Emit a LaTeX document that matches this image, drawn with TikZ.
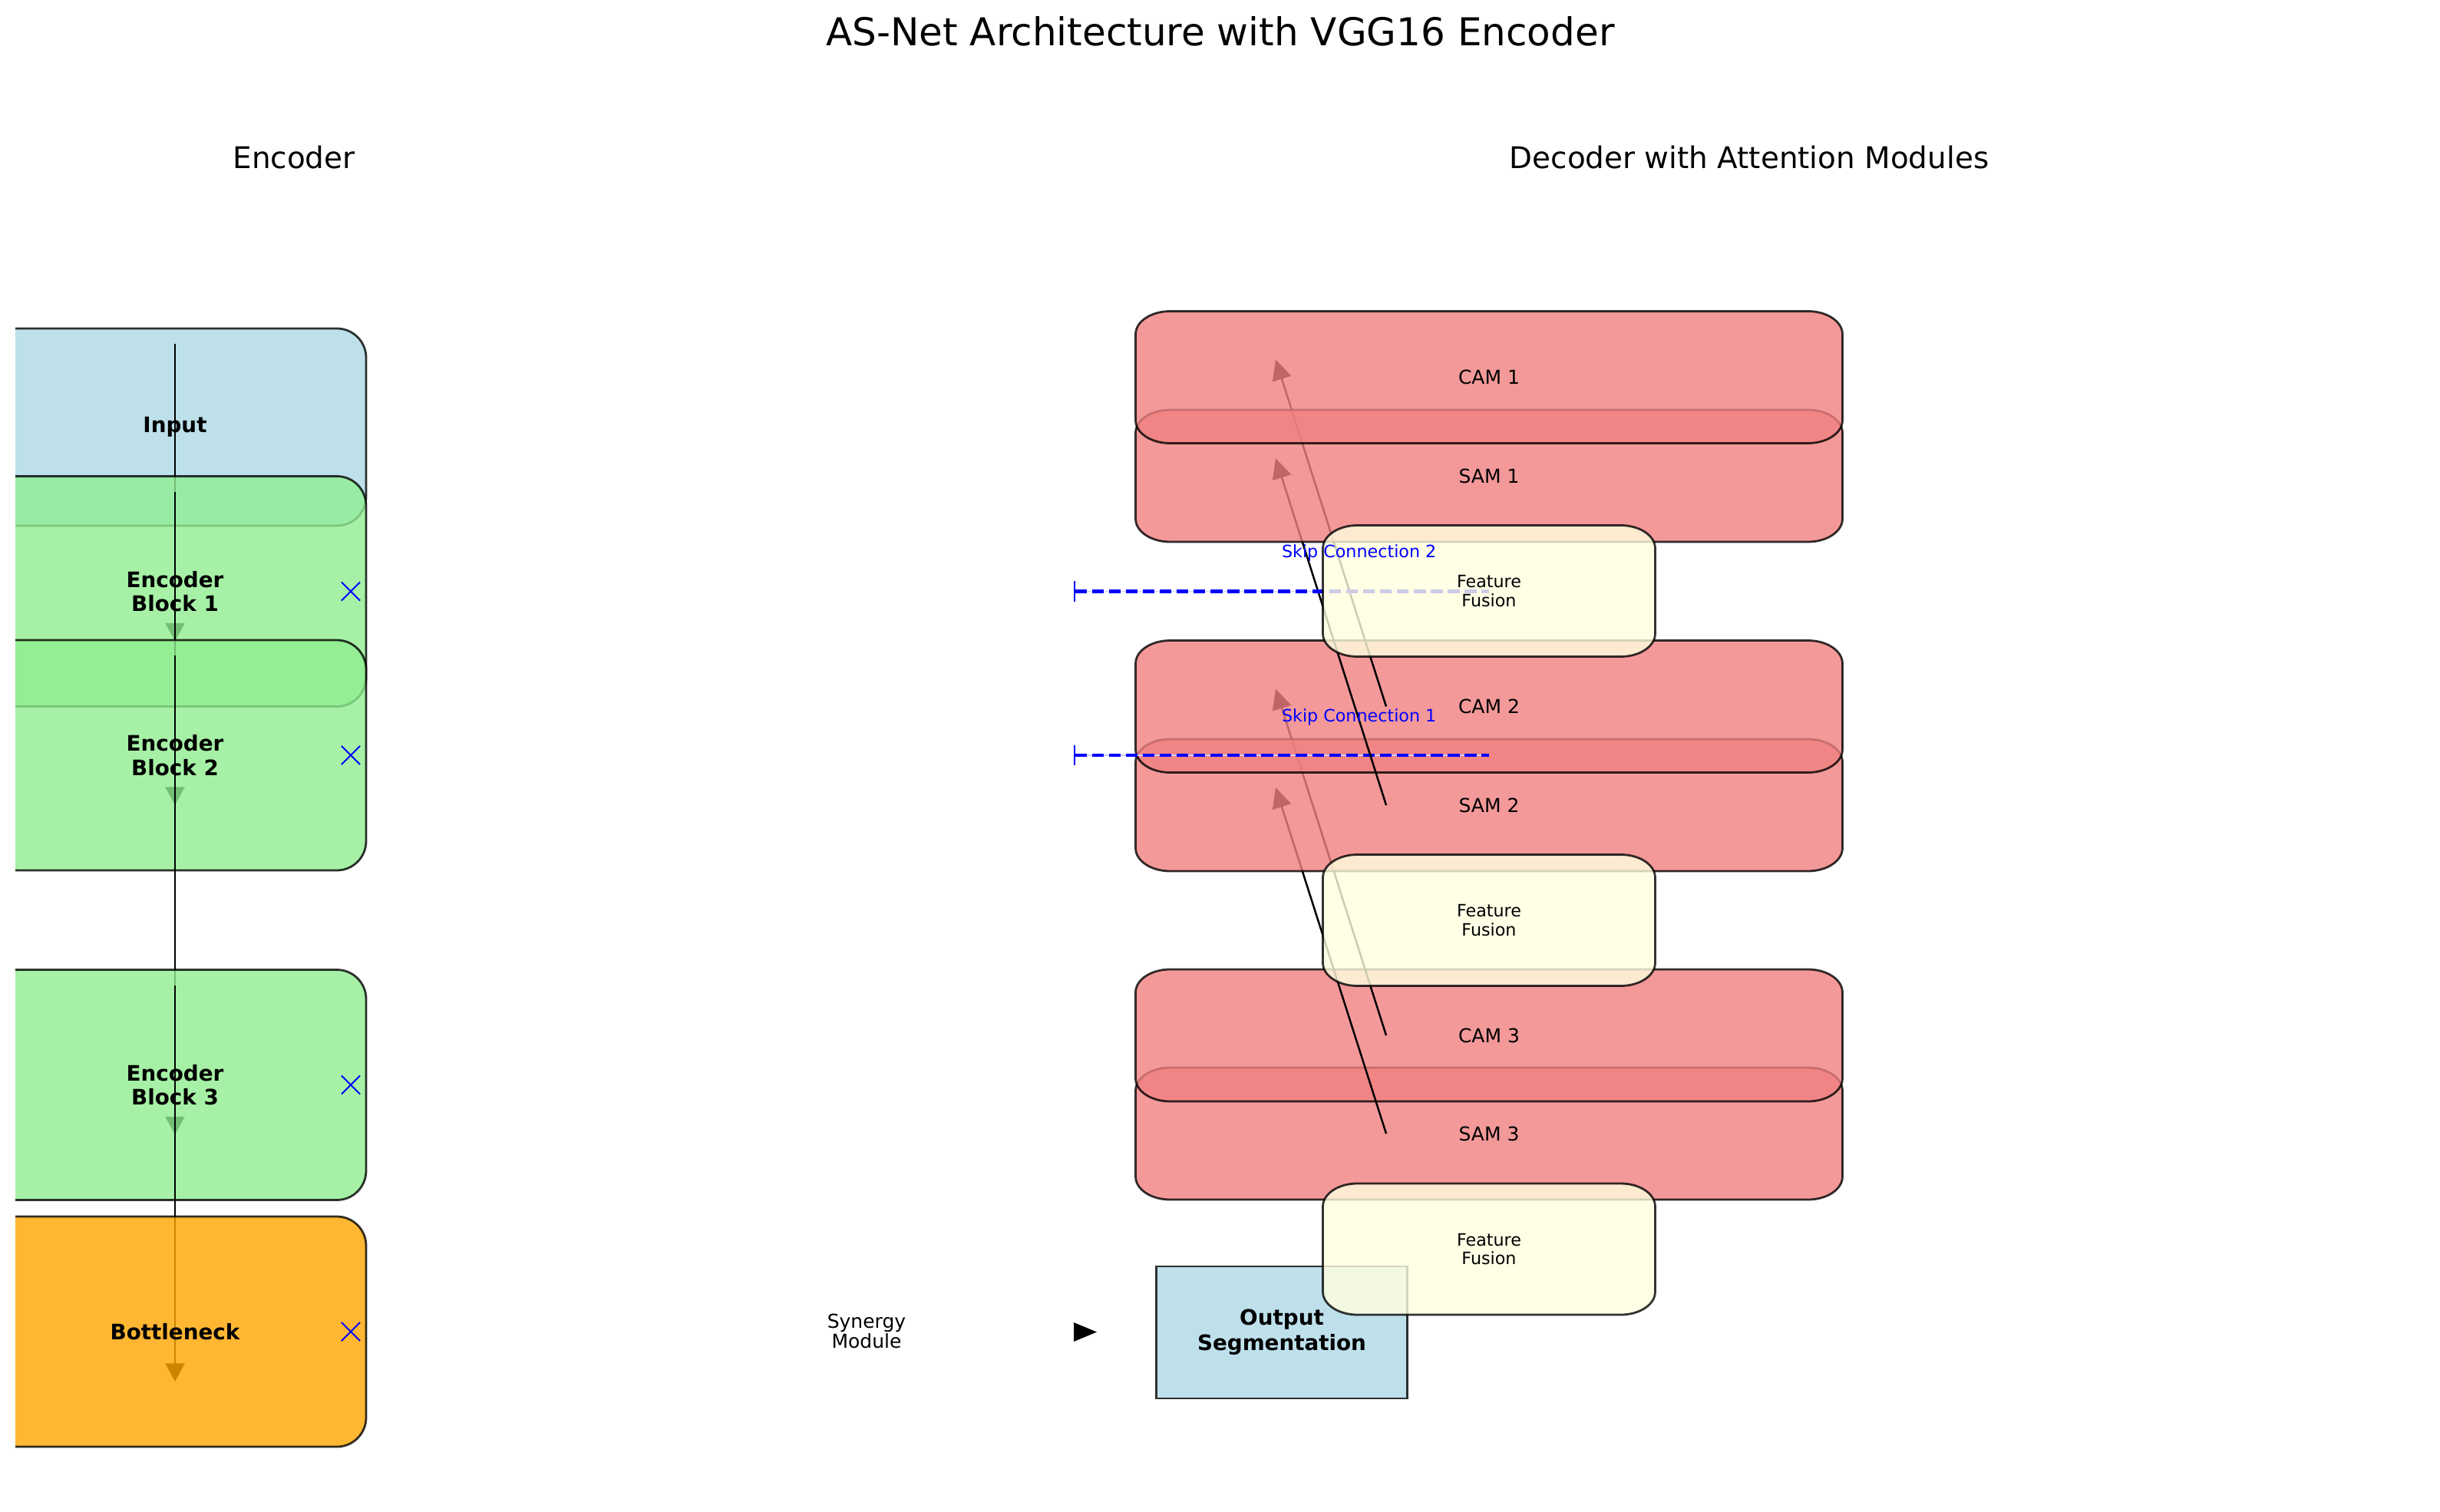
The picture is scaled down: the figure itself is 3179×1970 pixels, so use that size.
\documentclass[tikz,border=0pt]{standalone}
\usepackage{fontspec}
\setmainfont{DejaVu Sans}
\usetikzlibrary{arrows.meta,calc,shapes.misc}
\pgfdeclarelayer{back}
\pgfsetlayers{back,main}
\definecolor{lcoral}{RGB}{240,128,128}
\definecolor{lgreen}{RGB}{144,238,144}
\definecolor{lblue}{RGB}{173,216,230}
\definecolor{borange}{RGB}{255,165,0}
\definecolor{lyellow}{RGB}{255,255,224}
\newcommand{\roundbox}[4]{%
  \path[#4] ([xshift=#2]#1.south west) -- ([xshift=-#2]#1.south east)
    arc[start angle=270,end angle=360,x radius=#2,y radius=#3]
    -- ([yshift=-#3]#1.north east)
    arc[start angle=0,end angle=90,x radius=#2,y radius=#3]
    -- ([xshift=#2]#1.north west)
    arc[start angle=90,end angle=180,x radius=#2,y radius=#3]
    -- ([yshift=#3]#1.south west)
    arc[start angle=180,end angle=270,x radius=#2,y radius=#3] -- cycle;}
\begin{document}
\begin{tikzpicture}[x=0.36pt,y=-0.36pt, line join=round,
  box/.style={inner sep=0pt, outer sep=0pt},
  enc/.style={box, minimum width=179.28pt, minimum height=108pt, align=center, font=\fontsize{10}{11.3}\selectfont\bfseries},
  dec/.style={box, minimum width=331.56pt, minimum height=61.92pt, font=\fontsize{9}{10.5}\selectfont},
  fuse/.style={box, minimum width=155.88pt, minimum height=61.56pt, align=center, font=\fontsize{8}{8.8}\selectfont},
  shell/.style={draw=black, draw opacity=0.8, line width=1pt, fill opacity=0.8},
  flow/.style={line width=0.8pt, -{Triangle[width=9pt,length=8.5pt]}},
  modflow/.style={line width=0.9pt, -{Triangle[width=9pt,length=9.5pt]}},
  skipline/.style={blue, line width=1.5pt, dash pattern=on 5.55pt off 2.4pt, {Bar[width=9.4pt,line width=0.7pt]}-, preaction={draw=blue!20, solid, line width=0.6pt}},
  skiptext/.style={anchor=west, inner sep=0pt, text=blue, font=\fontsize{8}{9.6}\selectfont},
  xmark/.style={draw=blue, cross out, line width=0.7pt, minimum size=8pt, inner sep=0pt}]
\useasboundingbox (0,0) rectangle (3179,1970);
\node[font=\fontsize{18}{21}\selectfont] (title) at (1590,41) {AS-Net Architecture with VGG16 Encoder};
\node[font=\fontsize{14}{17}\selectfont] (enchead) at (383,205) {Encoder};
\node[font=\fontsize{14}{17}\selectfont] (dechead) at (2279,205) {Decoder with Attention Modules};
\node[enc, minimum height=92.52pt] (input) at (228,556.5) {Input};
\node[enc] (enc1) at (228,770.5) {Encoder\\Block 1};
\node[enc] (enc2) at (228,984) {Encoder\\Block 2};
\node[enc] (enc3) at (228,1413.5) {Encoder\\Block 3};
\node[enc] (bott) at (228,1735) {Bottleneck};
\foreach \b in {enc1,enc2,enc3,bott}
  \node[xmark] (x-\b) at ($(\b.east)+(-20,0)$) {};
\node[dec] (cam1) at (1940,491.5) {CAM 1};
\node[dec] (sam1) at (1940,620) {SAM 1};
\node[fuse] (ff1) at (1940,770) {Feature\\Fusion};
\node[dec] (cam2) at (1940,920.5) {CAM 2};
\node[dec] (sam2) at (1940,1049) {SAM 2};
\node[fuse] (ff2) at (1940,1199) {Feature\\Fusion};
\node[dec] (cam3) at (1940,1349) {CAM 3};
\node[dec] (sam3) at (1940,1477) {SAM 3};
\node[fuse] (ff3) at (1940,1627.5) {Feature\\Fusion};
\node[box, minimum width=117.72pt, minimum height=61.92pt, align=center, font=\fontsize{10}{12}\selectfont\bfseries] (out) at (1670,1736) {Output\\Segmentation};
\node[align=center, font=\fontsize{9}{9.4}\selectfont] (syn) at (1129,1734) {Synergy\\Module};
\coordinate (decleft) at (1399,0);
\coordinate (synhead) at (1414,1735.5);
\fill (synhead) ++(-15,-12.5) -- ++(30,12.5) -- ++(-30,12.5) -- cycle;
\node[skiptext] (sk1) at ($(enc2 -| decleft)!0.5!(enc2 -| ff2)+(0,-50)$) {Skip Connection 1};
\node[skiptext] (sk2) at ($(enc1 -| decleft)!0.5!(enc1 -| ff1)+(0,-50)$) {Skip Connection 2};
\begin{pgfonlayer}{back}
  \begin{scope}
    \clip (20,0) rectangle (1000,1970);
    \roundbox{input}{13.7pt}{13.7pt}{shell, fill=lblue}
    \draw[flow] ($(input.north)+(0,20)$) -- ($(enc1)+(0,65)$);
    \roundbox{enc1}{13.7pt}{13.7pt}{shell, fill=lgreen}
    \draw[flow] ($(enc1.north)+(0,20)$) -- ($(enc2)+(0,65)$);
    \roundbox{enc2}{13.7pt}{13.7pt}{shell, fill=lgreen}
    \draw[flow] ($(enc2.north)+(0,20)$) -- ($(enc3)+(0,65)$);
    \roundbox{enc3}{13.7pt}{13.7pt}{shell, fill=lgreen}
    \draw[flow] ($(enc3.north)+(0,20)$) -- ($(bott)+(0,65)$);
    \roundbox{bott}{13.7pt}{13.7pt}{shell, fill=borange}
  \end{scope}
  \path[shell, fill=lblue] (out.south west) rectangle (out.north east);
  \roundbox{sam3}{16.2pt}{10.8pt}{shell, fill=lcoral}
  \roundbox{cam3}{16.2pt}{10.8pt}{shell, fill=lcoral}
  \roundbox{ff3}{16.2pt}{10.8pt}{shell, fill=lyellow}
  \draw[modflow] ($(cam3)+(-134,0)$) -- ($(cam2)+(-278,-23)$);
  \draw[modflow] ($(sam3)+(-134,0)$) -- ($(sam2)+(-278,-23)$);
  \roundbox{sam2}{16.2pt}{10.8pt}{shell, fill=lcoral}
  \roundbox{cam2}{16.2pt}{10.8pt}{shell, fill=lcoral}
  \draw[skipline] (enc2 -| decleft) -- (enc2 -| ff2);
  \roundbox{ff2}{16.2pt}{10.8pt}{shell, fill=lyellow}
  \draw[modflow] ($(cam2)+(-134,0)$) -- ($(cam1)+(-278,-23)$);
  \draw[modflow] ($(sam2)+(-134,0)$) -- ($(sam1)+(-278,-23)$);
  \roundbox{sam1}{16.2pt}{10.8pt}{shell, fill=lcoral}
  \roundbox{cam1}{16.2pt}{10.8pt}{shell, fill=lcoral}
  \draw[skipline] (enc1 -| decleft) -- (enc1 -| ff1);
  \roundbox{ff1}{16.2pt}{10.8pt}{shell, fill=lyellow}
\end{pgfonlayer}
\end{tikzpicture}
\end{document}
